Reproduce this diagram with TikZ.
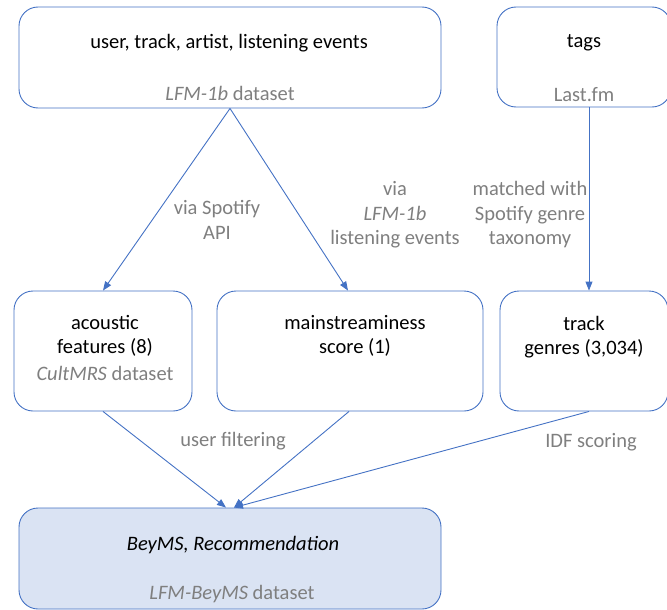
\documentclass[tikz,border=0pt]{standalone}
\usepackage{fontspec}
\setmainfont{Carlito}
\usetikzlibrary{arrows.meta}
\definecolor{lineblue}{HTML}{4472C4}
\definecolor{notegray}{HTML}{7F7F7F}
\definecolor{boxfill}{HTML}{DAE3F3}
\begin{document}
\begin{tikzpicture}[x=1pt,y=-1pt,
  box/.style n args={2}{draw=lineblue, line width=0.9pt, rounded corners=19pt,
    inner sep=0pt, minimum width=#1, minimum height=#2},
  txt/.style={font=\fontsize{20.5}{24.5}\selectfont, inner sep=0pt, align=center},
  note/.style={txt, text=notegray},
  flow/.style={draw=lineblue, line width=0.9pt,
    -{Triangle[length=9pt,width=7pt]}}]
\useasboundingbox (0,0) rectangle (667,610);

% boxes
\node[box={422pt}{101pt}] (A) at (230,57.5) {};
\node[box={174pt}{100pt}] (B) at (584,57) {};
\node[box={178pt}{120pt}] (C) at (103,351) {};
\node[box={266pt}{120pt}] (D) at (350,351) {};
\node[box={168pt}{120pt}] (E) at (584,351) {};
\node[box={422pt}{101pt}, fill=boxfill] (F) at (230,558.5) {};

% box texts
\node[txt] (Atitle) at (229,43) {user, track, artist, listening events};
\node[note] (Asrc) at (230,93) {\textit{LFM-1b} dataset};
\node[txt] (Btitle) at (584,43) {tags};
\node[note] (Bsrc) at (584,95) {Last.fm};
\node[txt] (Ctitle) at (105,336) {acoustic\\features (8)};
\node[note] (Csrc) at (105,373) {\textit{CultMRS} dataset};
\node[txt] (Dtitle) at (355,336) {mainstreaminess\\score (1)};
\node[txt] (Etitle) at (584,337) {track\\genres (3,034)};
\node[txt] (Ftitle) at (233,545) {\textit{BeyMS, Recommendation}};
\node[note] (Fsrc) at (232,594) {\textit{LFM-BeyMS} dataset};

% connectors
\draw[flow] (A.south) -- (C.north);
\draw[flow] (A.south) -- ([xshift=-2pt]D.north);
\draw[flow] ([xshift=5pt]B.south) -- ([xshift=5pt]E.north);
\draw[flow] (C.south) -- ([xshift=-4pt]F.north);
\draw[flow] ([xshift=-1pt]D.south) -- ([xshift=4pt]F.north);
\draw[flow] ([xshift=5pt]E.south) -- ([xshift=4pt]F.north);

% connector labels
\node[note] (l1) at (217,220) {via Spotify\\API};
\node[note] (l2) at (395,215) {via\\\textit{LFM-1b}\\listening events};
\node[note] (l3) at (530,215) {matched with\\Spotify genre\\taxonomy};
\node[note] (l4) at (233,441) {user filtering};
\node[note] (l5) at (591,442) {IDF scoring};
\end{tikzpicture}
\end{document}
